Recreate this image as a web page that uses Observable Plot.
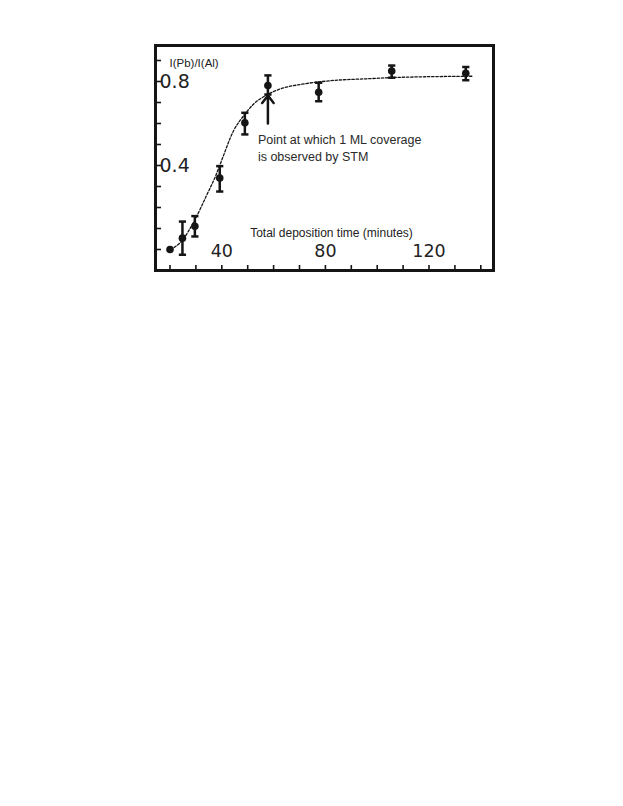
<!DOCTYPE html>
<html><head><meta charset="utf-8">
<script src="https://cdn.jsdelivr.net/npm/d3@7"></script>
<script src="https://cdn.jsdelivr.net/npm/@observablehq/plot@0.6"></script>
<style>html,body{margin:0;padding:0;background:#fff;} #chart svg{display:block;}</style>
</head><body><div id="chart"></div>
<script>
// measured points (deposition time in minutes, I(Pb)/I(Al))
const timeMin = [20, 24.8, 29.6, 39.2, 48.9, 57.8, 77.4, 105.6, 134.2];
const ratio   = [0.0, 0.054, 0.111, 0.34, 0.603, 0.781, 0.749, 0.85, 0.839];
const errLow  = [null, -0.025, 0.062, 0.276, 0.548, 0.738, 0.706, 0.818, 0.806];
const errHigh = [null, 0.133, 0.159, 0.397, 0.651, 0.829, 0.794, 0.876, 0.869];
// dashed fit curve
const fitTime  = [20.2, 24.7, 29.1, 34.4, 37.6, 39.5, 44.6, 48.5, 52.4, 56.9, 62.7, 70.4, 76.8, 83.1, 96.1, 109, 137.2];
const fitRatio = [0.0, 0.043, 0.13, 0.265, 0.35, 0.41, 0.567, 0.638, 0.694, 0.733, 0.765, 0.786, 0.797, 0.805, 0.813, 0.82, 0.825];
// ticks and labels
const xTicks = [20, 30, 40, 50, 60, 70, 80, 90, 100, 110, 120, 130, 140];
const yTicks = [0, 0.1, 0.2, 0.3, 0.4, 0.5, 0.6, 0.7, 0.8, 0.9];
const xLabels = [40, 80, 120];
const yLabels = [0.4, 0.8];
const yTitle = "I(Pb)/I(Al)";
const xTitle = "Total deposition time (minutes)";
// annotation
const noteText = "Point at which 1 ML coverage\nis observed by STM";
const arrowTime = 57.8;
const arrowFrom = 0.6;
const arrowTo = 0.733;

const pts = timeMin.map((t, i) => ({t, r: ratio[i], lo: errLow[i], hi: errHigh[i]}));
const bars = pts.filter(d => d.lo != null);
const caps = bars.flatMap(d => [{t: d.t, v: d.lo}, {t: d.t, v: d.hi}]);
const fit = fitTime.map((t, i) => ({t, r: fitRatio[i]}));
const arrowData = [{t: arrowTime, a: arrowFrom, b: arrowTo, note: noteText}];

const capSym = {draw(ctx) { ctx.moveTo(-3.6, 0); ctx.lineTo(3.6, 0); }};
const xTickSym = {draw(ctx) { ctx.moveTo(0, 0); ctx.lineTo(0, -5.5); }};
const yTickSym = {draw(ctx) { ctx.moveTo(0, 0); ctx.lineTo(5.5, 0); }};
const ink = "#151515";
const sans = "Liberation Sans, Arial, sans-serif";
const wide = "DejaVu Sans, sans-serif";

const chart = Plot.plot({
  width: 623, height: 300,
  marginLeft: 155, marginRight: 130, marginTop: 45, marginBottom: 30,
  style: {background: "#fff"},
  x: {domain: [14.4, 144.9], axis: null},
  y: {domain: [-0.1, 0.9714], axis: null},
  marks: [
    Plot.line(fit, {x: "t", y: "r", curve: "monotone-x", stroke: ink, strokeWidth: 1.3, strokeDasharray: "2.4,1.8"}),
    Plot.ruleX(bars, {x: "t", y1: "lo", y2: "hi", stroke: ink, strokeWidth: 2.5}),
    Plot.dot(caps, {x: "t", y: "v", symbol: capSym, stroke: ink, strokeWidth: 2.5, fill: "none"}),
    Plot.dot(pts, {x: "t", y: "r", r: 3.8, fill: ink, stroke: "none"}),
    Plot.arrow(arrowData, {x1: "t", x2: "t", y1: "a", y2: "b", stroke: ink, strokeWidth: 2.5, headLength: 12, headAngle: 76}),
    Plot.text(arrowData, {x: "t", y: "a", text: "note", dx: -10, dy: 8, textAnchor: "start", lineAnchor: "top", fontSize: 12.5, fontFamily: sans, lineHeight: 1.36, fill: "#2a2a2a"}),
    Plot.dot(xTicks, {x: d => d, frameAnchor: "bottom", symbol: xTickSym, stroke: ink, strokeWidth: 1.6, fill: "none"}),
    Plot.dot(yTicks, {y: d => d, frameAnchor: "left", symbol: yTickSym, stroke: ink, strokeWidth: 1.6, fill: "none"}),
    Plot.text(xLabels, {x: d => d, frameAnchor: "bottom", dy: -14, text: d => String(d), fontSize: 17.5, fontFamily: wide, fill: "#222"}),
    Plot.text(yLabels, {y: d => d, frameAnchor: "left", dx: 4, textAnchor: "start", text: d => d.toFixed(1), fontSize: 19, fontFamily: wide, fill: "#222"}),
    Plot.text([yTitle], {frameAnchor: "top-left", dx: 14, dy: 13, textAnchor: "start", text: d => d, fontSize: 11.5, fontFamily: sans, fill: "#222"}),
    Plot.text([xTitle], {frameAnchor: "bottom", dx: 7, dy: -34, text: d => d, fontSize: 12, fontFamily: sans, fill: "#222"}),
    Plot.frame({stroke: ink, strokeWidth: 3})
  ]
});
document.getElementById("chart").appendChild(chart);
</script>
</body></html>
